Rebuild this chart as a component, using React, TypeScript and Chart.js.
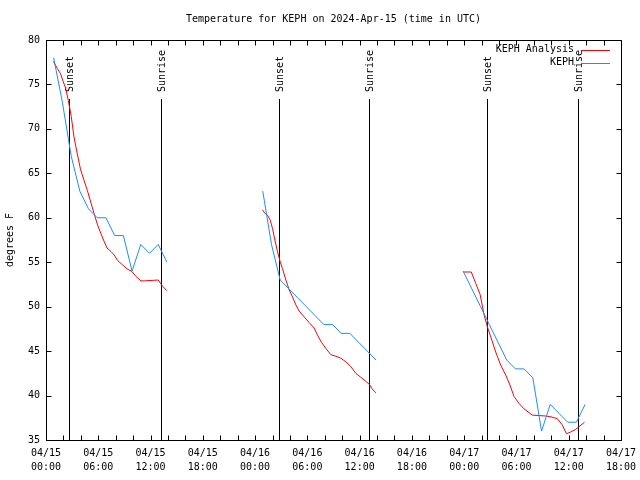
import React, { useEffect, useRef } from "react";
import { Chart, registerables } from "chart.js";

Chart.register(...registerables);

const TITLE = "Temperature for KEPH on 2024-Apr-15 (time in UTC)";
const Y_LABEL = "degrees F";
const ANALYSIS_LABEL = "KEPH Analysis";
const OBS_LABEL = "KEPH";
const ANALYSIS_COLOR = "#ff0000";
const OBS_COLOR = "#1e8cff";

// hours since 04/15 00:00 UTC
const obsTimes1 = [0.88, 1.88, 2.88, 3.88, 4.88, 5.88, 6.88, 7.88, 8.88, 9.88, 10.88, 11.88, 12.88, 13.88];
const obsTemps1 = [78, 73, 67, 63, 61, 60, 60, 58, 58, 54, 57, 56, 57, 55];
const obsTimes2 = [24.88, 25.88, 26.88, 27.88, 28.88, 29.88, 30.88, 31.88, 32.88, 33.88, 34.88, 35.88, 36.88, 37.88];
const obsTemps2 = [63, 57, 53, 52, 51, 50, 49, 48, 48, 47, 47, 46, 45, 44];
const obsTimes3 = [47.88, 48.88, 49.88, 50.88, 51.88, 52.88, 53.88, 54.88, 55.88, 56.88, 57.88, 58.88, 59.88, 60.88, 61.88];
const obsTemps3 = [54, 52, 50, 48, 46, 44, 43, 43, 42, 36, 39, 38, 37, 37, 39];

const anaTimes1 = [0.84, 1.3, 1.67, 1.98, 2.25, 2.56, 2.9, 3.21, 3.59, 3.97, 4.74, 5.51, 5.92, 6.31, 6.69, 7.0, 7.46, 7.84, 8.21, 8.79, 9.36, 9.82, 10.32, 10.9, 11.28, 12.88, 13.38, 13.88];
const anaTemps1 = [77.6, 76.8, 76.2, 75.3, 74.6, 73.2, 71.4, 69.1, 67.2, 65.4, 63.1, 60.5, 59.2, 58.2, 57.3, 56.6, 56.2, 55.8, 55.2, 54.7, 54.2, 54.0, 53.4, 52.9, 52.9, 53.0, 52.3, 51.8];
const anaTimes2 = [24.85, 25.12, 25.42, 25.73, 26.0, 26.27, 26.57, 26.88, 27.14, 27.53, 27.91, 28.29, 28.68, 29.06, 29.63, 30.21, 30.78, 31.16, 31.55, 32.12, 32.7, 33.19, 33.84, 34.42, 34.99, 35.56, 36.14, 36.71, 37.17, 37.4, 37.86];
const anaTemps2 = [60.9, 60.5, 60.3, 59.75, 58.8, 57.5, 56.2, 55.05, 54.3, 53.0, 51.9, 51.1, 50.2, 49.5, 48.85, 48.2, 47.6, 46.8, 46.1, 45.3, 44.6, 44.45, 44.2, 43.8, 43.25, 42.5, 42.05, 41.6, 41.2, 40.8, 40.3];
const anaTimes3 = [47.91, 48.82, 49.33, 49.82, 50.28, 50.66, 51.05, 51.62, 51.81, 52.2, 52.77, 53.21, 53.72, 54.3, 54.87, 55.82, 57.36, 57.97, 58.69, 59.26, 59.74, 60.23, 60.8, 61.18, 61.81];
const anaTemps3 = [53.9, 53.9, 52.6, 51.4, 49.1, 47.75, 46.6, 44.9, 44.4, 43.4, 42.3, 41.3, 39.9, 39.1, 38.5, 37.8, 37.7, 37.6, 37.4, 36.7, 35.7, 35.9, 36.2, 36.5, 37.0];

const eventTimes = [2.6, 13.15, 26.7, 37.1, 50.66, 61.1];
const eventLabels = ["Sunset", "Sunrise", "Sunset", "Sunrise", "Sunset", "Sunrise"];

const xTickDates = ["04/15", "04/15", "04/15", "04/15", "04/16", "04/16", "04/16", "04/16", "04/17", "04/17", "04/17", "04/17"];
const xTickTimes = ["00:00", "06:00", "12:00", "18:00", "00:00", "06:00", "12:00", "18:00", "00:00", "06:00", "12:00", "18:00"];

const FONT = "'DejaVu Sans Mono', monospace";

function buildPoints(segments: [number[], number[]][]) {
  const pts: { x: number; y: number | null }[] = [];
  segments.forEach(([ts, vs], si) => {
    ts.forEach((t, i) => pts.push({ x: t, y: vs[i] }));
    if (si < segments.length - 1) pts.push({ x: ts[ts.length - 1] + 0.5, y: null });
  });
  return pts;
}

const overlayPlugin = {
  id: "gnuplotOverlay",
  beforeDatasetsDraw(chart: any) {
    const { ctx, chartArea, scales } = chart;
    const xs = scales.x;
    ctx.save();
    ctx.strokeStyle = "#000";
    ctx.fillStyle = "#000";
    ctx.lineWidth = 1;
    ctx.font = `10px ${FONT}`;
    eventTimes.forEach((t, i) => {
      const px = Math.round(xs.getPixelForValue(t)) + 0.5;
      ctx.beginPath();
      ctx.moveTo(px, chartArea.top + 59);
      ctx.lineTo(px, chartArea.bottom);
      ctx.stroke();
      ctx.save();
      ctx.translate(px + 1, chartArea.top + 52);
      ctx.rotate(-Math.PI / 2);
      ctx.textAlign = "left";
      ctx.textBaseline = "middle";
      ctx.fillText(eventLabels[i], 0, 0);
      ctx.restore();
    });
    ctx.restore();
  },
  afterDraw(chart: any) {
    const { ctx, chartArea, scales } = chart;
    const { left, right, top, bottom } = chartArea;
    ctx.save();
    ctx.strokeStyle = "#000";
    ctx.fillStyle = "#000";
    ctx.lineWidth = 1;
    ctx.strokeRect(left + 0.5, top + 0.5, right - left, bottom - top);
    const tl = 5;
    ctx.beginPath();
    scales.x.ticks.forEach((_: any, i: number) => {
      const px = Math.round(scales.x.getPixelForTick(i)) + 0.5;
      ctx.moveTo(px, bottom + 0.5);
      ctx.lineTo(px, bottom + 0.5 - tl);
      ctx.moveTo(px, top + 0.5);
      ctx.lineTo(px, top + 0.5 + tl);
    });
    scales.y.ticks.forEach((_: any, i: number) => {
      const py = Math.round(scales.y.getPixelForTick(i)) + 0.5;
      ctx.moveTo(left + 0.5, py);
      ctx.lineTo(left + 0.5 + tl, py);
      ctx.moveTo(right + 0.5, py);
      ctx.lineTo(right + 0.5 - tl, py);
    });
    ctx.stroke();

    ctx.font = `10px ${FONT}`;
    ctx.textBaseline = "middle";
    ctx.textAlign = "center";
    ctx.fillText(TITLE, (left + right) / 2, 19);

    // legend
    const ds = chart.data.datasets;
    ctx.textAlign = "right";
    ds.forEach((d: any, i: number) => {
      const y = top + 9.5 + i * 13;
      ctx.fillStyle = "#000";
      ctx.fillText(d.label, right - 47, y);
      ctx.strokeStyle = d.borderColor;
      ctx.beginPath();
      ctx.moveTo(right - 40, Math.round(y) + 0.5);
      ctx.lineTo(right - 11, Math.round(y) + 0.5);
      ctx.stroke();
    });
    ctx.restore();
  },
};

export default function App() {
  const ref = useRef<HTMLCanvasElement | null>(null);
  useEffect(() => {
    if (!ref.current) return;
    Chart.defaults.font.family = FONT;
    Chart.defaults.font.size = 10;
    Chart.defaults.color = "#000";
    const chart = new Chart(ref.current, {
      type: "line",
      data: {
        datasets: [
          {
            label: ANALYSIS_LABEL,
            data: buildPoints([
              [anaTimes1, anaTemps1],
              [anaTimes2, anaTemps2],
              [anaTimes3, anaTemps3],
            ]) as any,
            borderColor: ANALYSIS_COLOR,
            borderWidth: 1,
            pointRadius: 0,
            tension: 0,
            spanGaps: false,
            order: 2,
          },
          {
            label: OBS_LABEL,
            data: buildPoints([
              [obsTimes1, obsTemps1],
              [obsTimes2, obsTemps2],
              [obsTimes3, obsTemps3],
            ]) as any,
            borderColor: OBS_COLOR,
            borderWidth: 1,
            pointRadius: 0,
            tension: 0,
            spanGaps: false,
            order: 1,
          },
        ],
      },
      options: {
        responsive: false,
        devicePixelRatio: 1,
        animation: false,
        layout: { padding: { top: 40, right: 19, left: 0, bottom: 0 } },
        plugins: { legend: { display: false }, tooltip: { enabled: false }, title: { display: false } },
        scales: {
          x: {
            type: "linear",
            min: 0,
            max: 66,
            border: { display: false },
            grid: { display: false, drawTicks: false },
            ticks: {
              stepSize: 2,
              autoSkip: false,
              maxRotation: 0,
              minRotation: 0,
              padding: 6,
              font: { family: FONT, size: 10, lineHeight: 1.4 },
              callback: (v: any) => {
                const n = Number(v);
                if (n % 6 !== 0) return "";
                const idx = n / 6;
                return [xTickDates[idx], xTickTimes[idx]];
              },
            },
            afterFit: (s: any) => {
              s.height = 40;
              s.paddingLeft = 0;
              s.paddingRight = 0;
            },
          },
          y: {
            type: "linear",
            min: 35,
            max: 80,
            border: { display: false },
            grid: { display: false, drawTicks: false },
            ticks: { stepSize: 5, padding: 6, font: { family: FONT, size: 10 } },
            title: {
              display: true,
              text: Y_LABEL,
              padding: { top: 4, bottom: 0 },
              font: { family: FONT, size: 10 },
            },
            afterFit: (s: any) => {
              s.width = 46;
              s.paddingTop = 0;
              s.paddingBottom = 0;
            },
          },
        },
      },
      plugins: [overlayPlugin],
    });
    return () => chart.destroy();
  }, []);
  return (
    <div style={{ position: "fixed", left: 0, top: 0, width: 640, height: 480, background: "#fff" }}>
      <canvas ref={ref} width={640} height={480} style={{ display: "block" }} />
    </div>
  );
}
